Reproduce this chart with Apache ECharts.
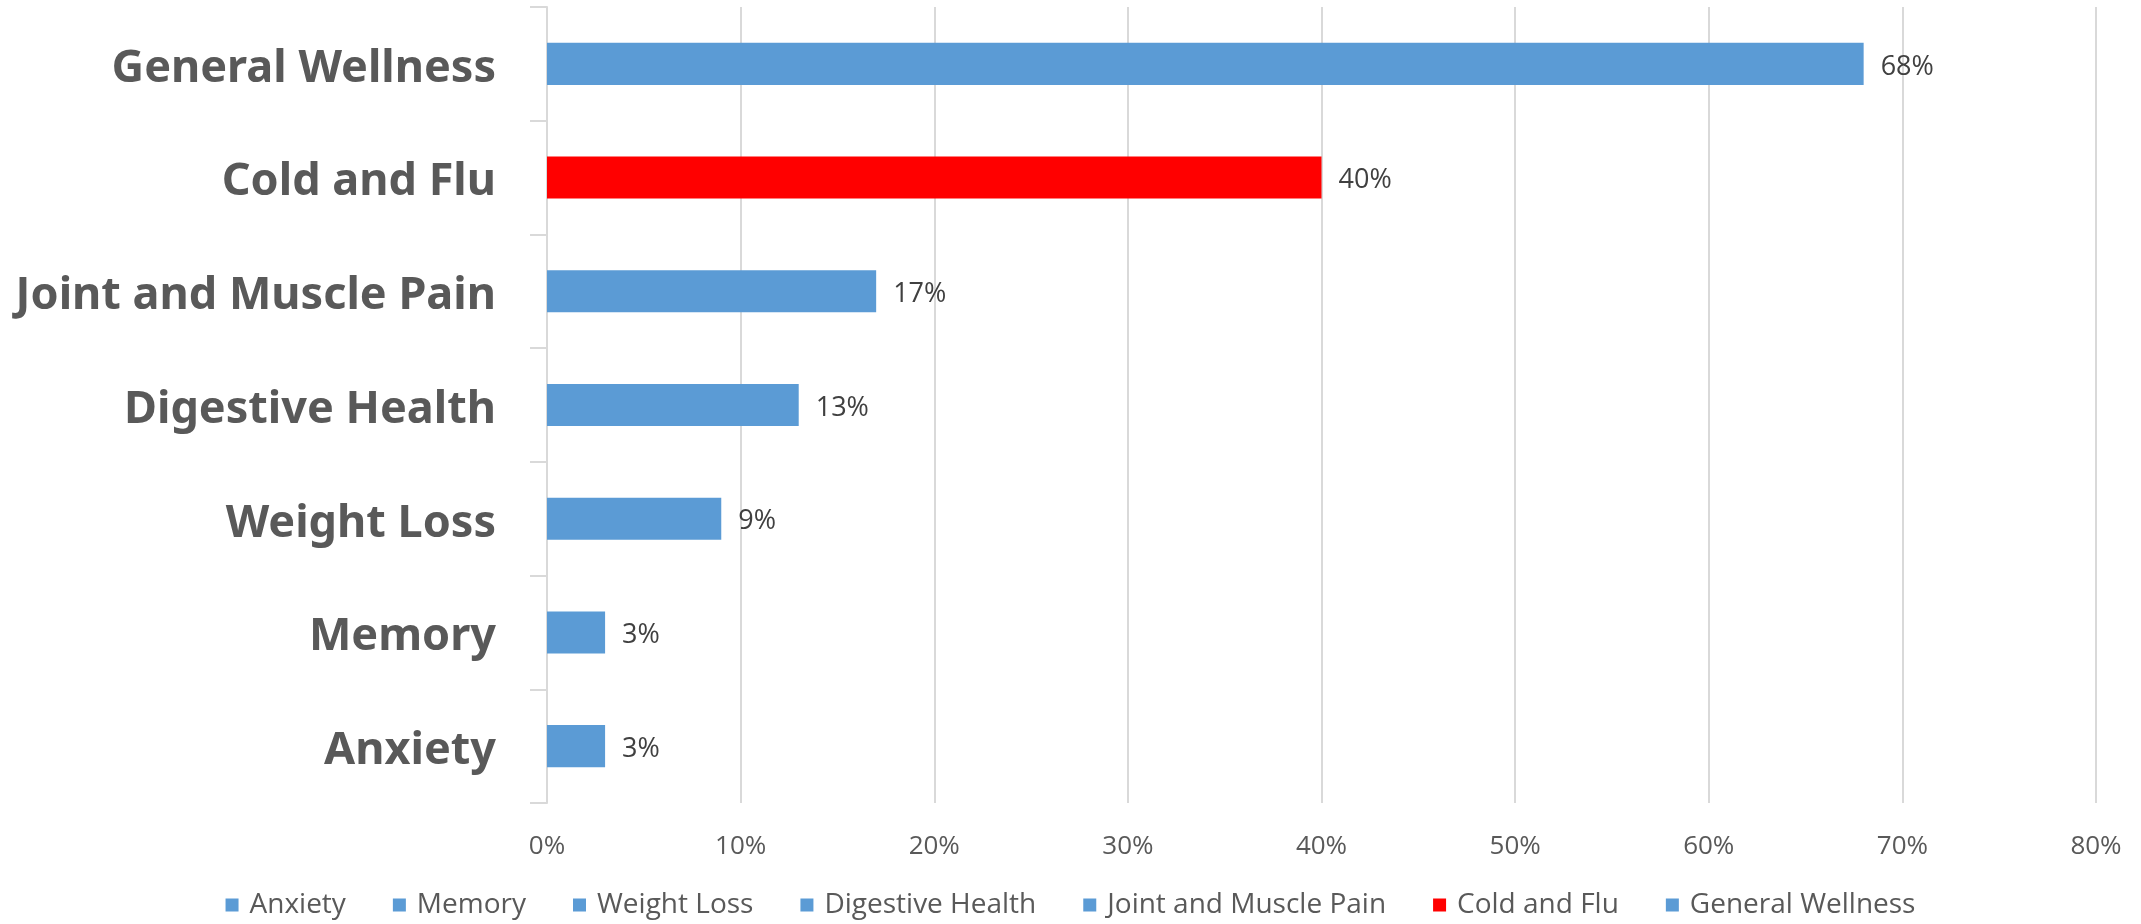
<!DOCTYPE html>
<html>
<head>
<meta charset="utf-8">
<script src="https://cdn.jsdelivr.net/npm/echarts@6/dist/echarts.min.js"></script>
<style>
  html, body { margin: 0; padding: 0; background: #ffffff; }
  #chart { width: 2141px; height: 924px; }
</style>
</head>
<body>
<div id="chart"></div>
<script>
// Categories listed bottom-to-top (category y axis runs upward)
const categories = ['Anxiety', 'Memory', 'Weight Loss', 'Digestive Health', 'Joint and Muscle Pain', 'Cold and Flu', 'General Wellness'];
const shares = [0.03, 0.03, 0.09, 0.13, 0.17, 0.40, 0.68];
const barColors = ['#5B9BD5', '#5B9BD5', '#5B9BD5', '#5B9BD5', '#5B9BD5', '#FF0000', '#5B9BD5'];
const xTicks = { min: 0, max: 0.8, step: 0.1 };

const pct = v => Math.round(v * 100) + '%';

// One series per category so each gets its own legend entry;
// stacking keeps every bar centred in its band.
const series = categories.map((name, i) => ({
  name: name,
  type: 'bar',
  stack: 'all',
  barWidth: '37%',
  itemStyle: { color: barColors[i] },
  label: {
    show: true,
    position: 'right',
    distance: 17,
    offset: [0, 3],
    color: '#404040',
    fontSize: 27,
    fontFamily: 'Open Sans',
    formatter: p => pct(p.value)
  },
  data: categories.map((c, j) => (j === i ? shares[i] : '-'))
}));

const chart = echarts.init(document.getElementById('chart'));
chart.setOption({
  animation: false,
  backgroundColor: '#ffffff',
  grid: { left: 547, right: 45, top: 7, bottom: 121, containLabel: false },
  legend: {
    bottom: 0,
    left: 'center',
    itemWidth: 13,
    itemHeight: 13,
    itemGap: 47,
    icon: 'rect',
    textStyle: { color: '#595959', fontSize: 28, fontFamily: 'Open Sans', padding: [0, 0, 0, 6] },
    data: categories
  },
  xAxis: {
    type: 'value',
    min: xTicks.min,
    max: xTicks.max,
    interval: xTicks.step,
    axisLine: { show: false },
    axisTick: { show: false },
    splitLine: { show: true, lineStyle: { color: '#d9d9d9', width: 2 } },
    axisLabel: {
      margin: 31,
      color: '#595959',
      fontSize: 26,
      fontFamily: 'Open Sans',
      formatter: v => pct(v)
    }
  },
  yAxis: {
    type: 'category',
    data: categories,
    axisLine: { show: true, lineStyle: { color: '#d9d9d9', width: 2 } },
    axisTick: { show: true, length: 17, lineStyle: { color: '#d9d9d9', width: 2 } },
    axisLabel: {
      margin: 51,
      formatter: v => '{c|' + v + '}',
      rich: {
        c: {
          color: '#595959',
          fontSize: 45,
          fontWeight: 'bold',
          fontFamily: 'Noto Sans',
          padding: [10, 0, 0, 0]
        }
      }
    }
  },
  series: series
});
</script>
</body>
</html>
